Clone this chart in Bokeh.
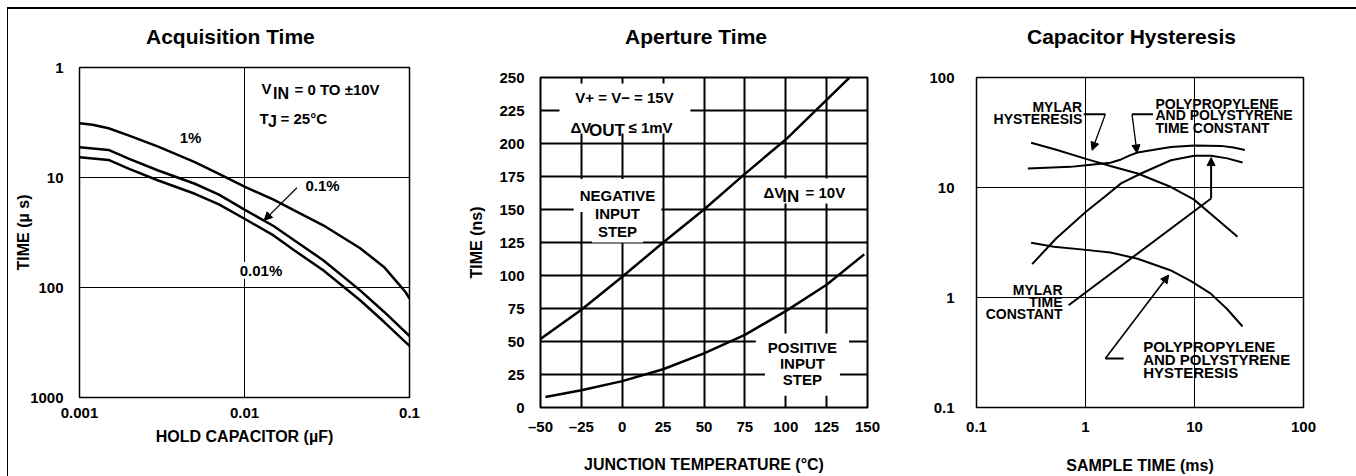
from bokeh.plotting import figure
from bokeh.models import (Range1d, FixedTicker, CustomJSTickFormatter, Label, Arrow,
                          NormalHead, Div, BoxAnnotation)
from bokeh.layouts import row, column
from bokeh.embed import file_html
from bokeh.resources import INLINE

FONT = "Liberation Sans"

# ---------------- Acquisition Time (log-log, inverted y) ----------------
acq_cap_1 = [0.001, 0.0012, 0.0015, 0.002, 0.003, 0.005, 0.007, 0.01, 0.015,
             0.02, 0.03, 0.05, 0.07, 0.09, 0.095, 0.1]
acq_time_1pct = [3.22, 3.31, 3.57, 4.16, 5.24, 7.26, 9.26, 12.1, 15.9,
                 19.9, 27.2, 43.7, 65.0, 100.7, 111, 126]
acq_cap_2 = [0.001, 0.0015, 0.002, 0.003, 0.005, 0.007, 0.01, 0.015, 0.02,
             0.03, 0.05, 0.07, 0.1]
acq_time_01pct = [5.31, 5.61, 6.77, 8.64, 11.4, 14.3, 19.6, 27.6, 37.2,
                  56.5, 105.7, 166, 276]
acq_time_001pct = [6.54, 6.92, 8.35, 10.65, 14.06, 17.57, 23.7, 33.6, 45.9,
                   69.6, 130, 205, 340]
acq_x_ticks = [0.001, 0.01, 0.1]
acq_x_labels = ["0.001", "0.01", "0.1"]
acq_y_ticks = [1, 10, 100, 1000]
acq_y_labels = ["1", "10", "100", "1000"]

# ---------------- Aperture Time ----------------
ap_temp_neg = [-50, -25, 0, 25, 50, 75, 100, 125, 139]
ap_time_neg = [52, 74, 99, 125, 150, 177, 203, 233, 250]
ap_temp_pos = [-47, -25, 0, 25, 50, 75, 100, 125, 148]
ap_time_pos = [8, 13, 20, 29, 41, 55, 73, 93, 116]
ap_x_ticks = [-50, -25, 0, 25, 50, 75, 100, 125, 150]
ap_x_labels = ["\u201350", "\u201325", "0", "25", "50", "75", "100", "125", "150"]
ap_y_ticks = [0, 25, 50, 75, 100, 125, 150, 175, 200, 225, 250]
ap_y_labels = ["0", "25", "50", "75", "100", "125", "150", "175", "200", "225", "250"]

# ---------------- Capacitor Hysteresis ----------------
hyst_mylar_t = [0.317, 0.549, 1.01, 1.69, 3.01, 6.09, 9.83, 16.3, 24.8]
hyst_mylar_v = [25.5, 21.9, 18.2, 15.7, 13.4, 10.1, 7.8, 5.1, 3.56]
tc_pp_t = [0.296, 0.727, 1.01, 1.69, 2.12, 2.58, 3.01, 4.53, 6.09, 9.95, 17.5, 22.8, 29.0]
tc_pp_v = [14.9, 15.4, 15.9, 16.8, 18.0, 19.7, 20.8, 22.3, 23.3, 24.1, 23.9, 23.1, 21.9]
tc_mylar_t = [0.324, 0.537, 1.01, 1.5, 2.12, 3.23, 6.08, 9.96, 14.2, 20.0, 27.6]
tc_mylar_v = [2.01, 3.44, 6.01, 8.24, 10.9, 13.4, 17.7, 19.4, 19.4, 18.4, 16.9]
hyst_pp_t = [0.317, 0.512, 1.01, 1.69, 3.01, 6.0, 9.28, 14.0, 19.8, 27.6]
hyst_pp_v = [3.14, 2.89, 2.71, 2.57, 2.25, 1.77, 1.41, 1.09, 0.79, 0.545]
cap_ticks = [0.1, 1, 10, 100]
cap_labels = ["0.1", "1", "10", "100"]

titles = ["Acquisition Time", "Aperture Time", "Capacitor Hysteresis"]


def tick_fmt(tvals, tlabels):
    return CustomJSTickFormatter(args=dict(tvals=tvals, tlabels=tlabels), code="""
        for (let i = 0; i < tvals.length; i++) {
            if (Math.abs(tvals[i] - tick) <= 1e-9 * Math.max(1, Math.abs(tvals[i]))) return tlabels[i];
        }
        return "";
    """)


TOP, FH, BOTTOM = 20, 330, 69


def make_fig(xr, yr, xt, yt, fw, left, right, outline_w):
    p = figure(x_range=xr, y_range=yr, x_axis_type=xt, y_axis_type=yt,
               frame_width=fw, frame_height=FH, min_border_left=left, min_border_right=right,
               min_border_top=TOP, min_border_bottom=BOTTOM,
               toolbar_location=None, output_backend="svg")
    p.background_fill_color = "white"
    p.border_fill_color = "white"
    p.border_fill_alpha = 0.0
    p.outline_line_color = "black"
    p.outline_line_width = outline_w
    p.outline_line_alpha = 1.0
    for ax in (p.xaxis[0], p.yaxis[0]):
        ax.axis_line_color = None
        ax.major_tick_line_color = None
        ax.minor_tick_line_color = None
        ax.major_tick_out = 0
        ax.major_tick_in = 0
        ax.major_label_text_font = FONT
        ax.major_label_text_font_size = "15px"
        ax.major_label_text_font_style = "bold"
        ax.major_label_text_color = "black"
        ax.axis_label_text_font = FONT
        ax.axis_label_text_font_size = "16px"
        ax.axis_label_text_font_style = "bold"
        ax.axis_label_text_color = "black"
    return p


def set_ticks(p, xticks, xlabels, yticks, ylabels, grid_w):
    xtk = FixedTicker(ticks=xticks)
    ytk = FixedTicker(ticks=yticks)
    p.xaxis[0].ticker = xtk
    p.yaxis[0].ticker = ytk
    p.xaxis[0].formatter = tick_fmt(xticks, xlabels)
    p.yaxis[0].formatter = tick_fmt(yticks, ylabels)
    p.xgrid[0].ticker = xtk
    p.ygrid[0].ticker = ytk
    for g in (p.xgrid[0], p.ygrid[0]):
        g.grid_line_color = "black"
        g.grid_line_alpha = 1.0
        g.grid_line_width = grid_w
        g.minor_grid_line_color = None


def text(p, x, y, s, size=15, align="left", bg=False, pad=None):
    lab = Label(x=x, y=y, text=s, text_font=FONT, text_font_size=f"{size}px",
                text_font_style="bold", text_align=align, text_baseline="middle",
                text_color="black")
    if bg:
        lab.background_fill_color = "white"
        lab.background_fill_alpha = 1.0
    if pad is not None:
        lab.padding = dict(left=pad[0], right=pad[1], top=pad[2], bottom=pad[3])
    p.add_layout(lab)


def white_box(p, left, right, bottom, top):
    p.add_layout(BoxAnnotation(left=left, right=right, bottom=bottom, top=top,
                               fill_color="white", fill_alpha=1.0, line_color=None,
                               level="underlay"))


def head():
    return NormalHead(size=8, fill_color="black", line_color="black", line_width=1)


def title_div(s, width, indent):
    html = ('<div style="font-family: \'Liberation Sans\', Arial, sans-serif; font-size: 21px; '
            'font-weight: bold; color: black; line-height: 55px; white-space: nowrap; '
            f'text-indent: {indent}px; margin: 0; padding: 0;">{s}</div>')
    return Div(text=html, width=width, height=48, margin=0)


# ---------------- Panel 1 ----------------
p1 = make_fig(Range1d(0.001, 0.1), Range1d(1000, 1), "log", "log", 330, 71, 43, 1.5)
p1.styles = {"transform": "translateY(-10px)"}
set_ticks(p1, acq_x_ticks, acq_x_labels, acq_y_ticks, acq_y_labels, 1)
p1.xaxis[0].axis_label = "HOLD CAPACITOR (\u00b5F)"
p1.yaxis[0].axis_label = "TIME (\u00b5 s)"
p1.xaxis[0].major_label_standoff = 10
p1.xaxis[0].axis_label_standoff = 7
p1.yaxis[0].major_label_standoff = 16
p1.yaxis[0].axis_label_standoff = -5
p1.line(acq_cap_1, acq_time_1pct, line_color="black", line_width=2.5)
p1.line(acq_cap_2, acq_time_01pct, line_color="black", line_width=2.5)
p1.line(acq_cap_2, acq_time_001pct, line_color="black", line_width=2.5)
text(p1, 0.01268, 1.568, "V")
text(p1, 0.01488, 1.74, "IN", size=16)
text(p1, 0.0201, 1.58, "= 0 TO \u00b110V")
text(p1, 0.01232, 2.88, "T")
text(p1, 0.01388, 3.10, "J", size=16)
text(p1, 0.01653, 2.88, "= 25\u00b0C")
text(p1, 0.00471, 4.37, "1%", align="center")
text(p1, 0.0297, 11.82, "0.1%", align="center")
text(p1, 0.01259, 70.0, "0.01%", align="center", bg=True, pad=(0, 0, 0, 0))
p1.add_layout(Arrow(end=head(), x_start=0.0208, y_start=12.4, x_end=0.01316, y_end=24.5,
                    line_width=1.2, line_color="black"))

# ---------------- Panel 2 ----------------
p2 = make_fig(Range1d(-50, 150), Range1d(0, 250), "linear", "linear", 327, 88, 37, 2)
set_ticks(p2, ap_x_ticks, ap_x_labels, ap_y_ticks, ap_y_labels, 2)
p2.xaxis[0].axis_label = "JUNCTION TEMPERATURE (\u00b0C)"
p2.yaxis[0].axis_label = "TIME (ns)"
p2.xaxis[0].major_label_standoff = 10
p2.xaxis[0].axis_label_standoff = 18
p2.yaxis[0].major_label_standoff = 16
p2.yaxis[0].axis_label_standoff = 11
p2.line(ap_temp_neg, ap_time_neg, line_color="black", line_width=2.5)
p2.line(ap_temp_pos, ap_time_pos, line_color="black", line_width=2.5)
white_box(p2, -38.4, 41.7, 207.6, 245.5)
white_box(p2, 83.3, 139.6, 154.5, 173.5)
text(p2, 1.37, 234.5, "V+ = V\u2212 = 15V", align="center")
text(p2, -31.65, 212.4, "\u0394V")
text(p2, -20.34, 209.6, "OUT", size=17)
text(p2, 3.82, 212.4, "\u2264 1mV")
text(p2, -2.91, 160.6, "NEGATIVE", align="center", bg=True, pad=(6, 6, 8, 8))
text(p2, -2.91, 147.2, "INPUT", align="center", bg=True, pad=(8, 8, 2, 2))
text(p2, -2.91, 133.3, "STEP", align="center", bg=True, pad=(6, 6, 2, 3))
text(p2, 86.4, 163.1, "\u0394V")
text(p2, 97.8, 160.0, "IN", size=17)
text(p2, 112.1, 163.1, "= 10V")
text(p2, 110.2, 46.2, "POSITIVE", align="center", bg=True, pad=(12, 12, 5, 4))
text(p2, 110.2, 32.6, "INPUT", align="center", bg=True, pad=(15, 15, 2, 4))
text(p2, 110.2, 19.2, "STEP", align="center", bg=True, pad=(15, 15, 2, 8))

# ---------------- Panel 3 ----------------
p3 = make_fig(Range1d(0.1, 100), Range1d(0.1, 100), "log", "log", 327, 72, 45, 1.5)
set_ticks(p3, cap_ticks, cap_labels, cap_ticks, cap_labels, 1)
p3.xaxis[0].axis_label = "SAMPLE TIME (ms)"
p3.xaxis[0].major_label_standoff = 14
p3.xaxis[0].axis_label_standoff = 22
p3.yaxis[0].major_label_standoff = 22
for xs, ys in ((hyst_mylar_t, hyst_mylar_v), (tc_pp_t, tc_pp_v),
               (tc_mylar_t, tc_mylar_v), (hyst_pp_t, hyst_pp_v)):
    p3.line(xs, ys, line_color="black", line_width=2)

text(p3, 0.933, 53.8, "MYLAR", size=14, align="right")
text(p3, 0.933, 41.9, "HYSTERESIS", size=14, align="right")
text(p3, 4.385, 57.8, "POLYPROPYLENE", size=14)
text(p3, 4.385, 45.2, "AND POLYSTYRENE", size=14)
text(p3, 4.385, 34.7, "TIME CONSTANT", size=14)
text(p3, 0.615, 1.173, "MYLAR", size=14, align="right")
text(p3, 0.615, 0.919, "TIME", size=14, align="right")
text(p3, 0.615, 0.7066, "CONSTANT", size=14, align="right")
text(p3, 3.383, 0.3593, "POLYPROPYLENE", size=15)
text(p3, 3.383, 0.274, "AND POLYSTYRENE", size=15)
text(p3, 3.383, 0.2098, "HYSTERESIS", size=15)

# leader lines with arrow heads
p3.line([0.964, 1.52], [46.4, 46.4], line_color="black", line_width=2)
p3.add_layout(Arrow(end=head(), x_start=1.52, y_start=46.4, x_end=1.15, y_end=21.8,
                    line_width=1.3, line_color="black"))
p3.line([4.16, 2.67], [46.4, 46.4], line_color="black", line_width=2)
p3.add_layout(Arrow(end=head(), x_start=2.67, y_start=46.4, x_end=2.97, y_end=20.6,
                    line_width=1.3, line_color="black"))
p3.line([0.70, 14.2], [0.851, 7.94], line_color="black", line_width=2)
p3.add_layout(Arrow(end=head(), x_start=14.2, y_start=7.94, x_end=14.2, y_end=18.7,
                    line_width=2, line_color="black"))
p3.line([2.24, 1.52], [0.279, 0.279], line_color="black", line_width=2)
p3.add_layout(Arrow(end=head(), x_start=1.52, y_start=0.279, x_end=5.8, y_end=1.6,
                    line_width=1.6, line_color="black"))

col1 = column(title_div(titles[0], 444, 138), p1, spacing=0)
col2 = column(title_div(titles[1], 452, 173), p2, spacing=0)
col3 = column(title_div(titles[2], 444, 123), p3, spacing=0)

top_line = Div(width=1349, height=2, margin=0, styles={"background-color": "black"})
left_line = Div(width=1, height=467, margin=0, styles={"background-color": "black"})
layout = column(top_line, row(left_line, col1, col2, col3, spacing=0), spacing=0,
                margin=(7, 0, 0, 7))

open("out.html", "w").write(file_html(layout, INLINE, "Charts"))
